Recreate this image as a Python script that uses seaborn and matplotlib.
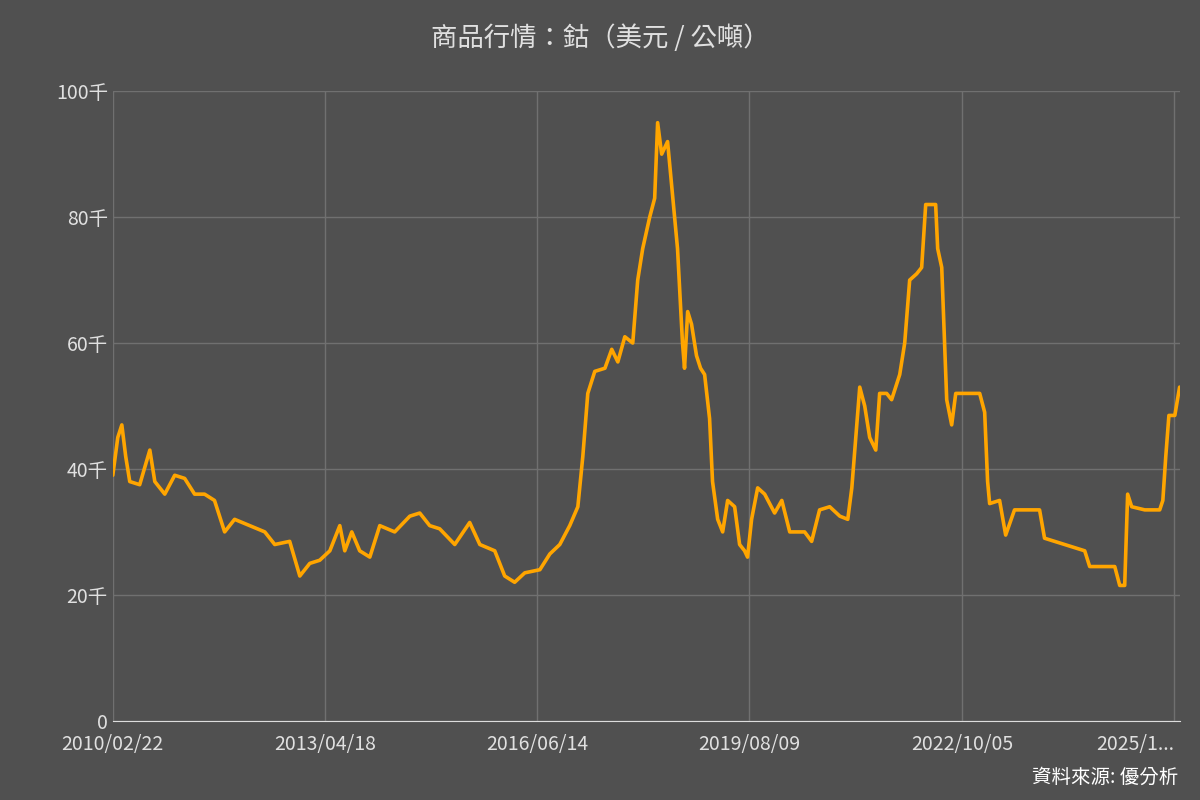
import matplotlib
matplotlib.use('Agg')
import matplotlib.pyplot as plt
import seaborn as sns
import pandas as pd

# 鈷價 (千美元/公噸)
dates = ['2010-02-22', '2010-03-21', '2010-04-12', '2010-05-03', '2010-05-25', '2010-07-18',
         '2010-09-11', '2010-10-08', '2010-12-01', '2011-01-24', '2011-03-19', '2011-05-12',
         '2011-07-05', '2011-08-28', '2011-10-22', '2011-12-15', '2012-03-06', '2012-05-27',
         '2012-07-20', '2012-10-09', '2012-12-03', '2013-01-26', '2013-03-21', '2013-05-15',
         '2013-07-08', '2013-08-04', '2013-09-11', '2013-10-24', '2013-12-18', '2014-02-10',
         '2014-05-02', '2014-07-23', '2014-09-15', '2014-11-08', '2015-01-01', '2015-03-24',
         '2015-06-13', '2015-08-07', '2015-10-27', '2015-12-20', '2016-02-12', '2016-04-07',
         '2016-06-28', '2016-08-21', '2016-10-14', '2016-12-07', '2017-01-20', '2017-02-16',
         '2017-03-15', '2017-04-22', '2017-06-16', '2017-07-23', '2017-08-25', '2017-10-02',
         '2017-11-14', '2017-12-11', '2018-01-07', '2018-02-14', '2018-03-13', '2018-03-29',
         '2018-04-20', '2018-05-22', '2018-06-13', '2018-07-15', '2018-08-11', '2018-08-22',
         '2018-09-08', '2018-09-29', '2018-10-26', '2018-11-17', '2018-12-09', '2019-01-05',
         '2019-01-21', '2019-02-18', '2019-03-17', '2019-04-13', '2019-05-21', '2019-06-17',
         '2019-07-14', '2019-07-30', '2019-08-21', '2019-09-23', '2019-10-31', '2019-12-24',
         '2020-02-01', '2020-03-15', '2020-06-04', '2020-07-12', '2020-08-24', '2020-10-18',
         '2020-12-12', '2021-01-24', '2021-02-15', '2021-03-14', '2021-03-30', '2021-04-26',
         '2021-05-23', '2021-06-25', '2021-07-16', '2021-08-23', '2021-09-19', '2021-11-02',
         '2021-11-29', '2021-12-26', '2022-02-02', '2022-03-01', '2022-03-23', '2022-05-16',
         '2022-05-27', '2022-06-18', '2022-07-15', '2022-08-11', '2022-09-02', '2023-01-10',
         '2023-02-06', '2023-02-22', '2023-03-05', '2023-04-28', '2023-05-31', '2023-07-18',
         '2023-12-01', '2023-12-28', '2024-02-21', '2024-04-15', '2024-06-08', '2024-08-02',
         '2024-08-29', '2025-01-12', '2025-02-08', '2025-03-07', '2025-03-23', '2025-04-14',
         '2025-06-24', '2025-09-13', '2025-09-30', '2025-10-16', '2025-11-02', '2025-12-04',
         '2025-12-30']
prices = [39, 45, 47, 42, 38, 37.5,
          43, 38, 36, 39, 38.5, 36,
          36, 35, 30, 32, 31, 30,
          28, 28.5, 23, 25, 25.5, 27,
          31, 27, 30, 27, 26, 31,
          30, 32.5, 33, 31, 30.5, 28,
          31.5, 28, 27, 23, 22, 23.5,
          24, 26.5, 28, 31, 34, 42,
          52, 55.5, 56, 59, 57, 61,
          60, 70, 75, 80, 83, 95,
          90, 92, 85, 75, 60, 56,
          65, 63, 58, 56, 55, 48,
          38, 32, 30, 35, 34, 28,
          27, 26, 32, 37, 36, 33,
          35, 30, 30, 28.5, 33.5, 34,
          32.5, 32, 37, 47, 53, 50,
          45, 43, 52, 52, 51, 55,
          60, 70, 71, 72, 82, 82,
          75, 72, 51, 47, 52, 52,
          49, 38, 34.5, 35, 29.5, 33.5,
          33.5, 29, 28.5, 28, 27.5, 27,
          24.5, 24.5, 21.5, 21.5, 36, 34,
          33.5, 33.5, 35, 42, 48.5, 48.5,
          53]

tick_dates = ['2010-02-22', '2013-04-18', '2016-06-14', '2019-08-09', '2022-10-05', '2025-11-30']
tick_labels = ['2010/02/22', '2013/04/18', '2016/06/14', '2019/08/09', '2022/10/05', '2025/1...']
y_ticks = [0, 20, 40, 60, 80, 100]
y_labels = ['0', '20千', '40千', '60千', '80千', '100千']

df = pd.DataFrame({'date': pd.to_datetime(dates), 'price': prices})

bg = '#505050'
sns.set_style('dark')
plt.rcParams['font.family'] = ['Noto Sans CJK TC', 'DejaVu Sans']

fig, ax = plt.subplots(figsize=(12, 8), dpi=100)
fig.patch.set_facecolor(bg)
ax.set_facecolor(bg)
fig.subplots_adjust(left=0.094, right=0.983, top=0.886, bottom=0.099)

sns.lineplot(data=df, x='date', y='price', ax=ax, color='#FFA500', linewidth=2.6)

ax.set_xlim(df['date'].iloc[0], df['date'].iloc[-1])
ax.set_ylim(0, 100)
ax.set_yticks(y_ticks)
ax.set_yticklabels(y_labels)
ax.set_xticks(pd.to_datetime(tick_dates))
ax.set_xticklabels(tick_labels)
ax.get_xticklabels()[-1].set_horizontalalignment('right')
ax.get_xticklabels()[-1].set_x(0)
ax.grid(True, color='#707070', linewidth=1)
ax.tick_params(axis='both', colors='#e0e0e0', labelsize=14)
ax.tick_params(axis='y', length=0)
ax.tick_params(axis='x', length=6, color='#dddddd')
ax.set_xlabel('')
ax.set_ylabel('')
for s in ['top', 'right', 'left']:
    ax.spines[s].set_visible(False)
ax.spines['bottom'].set_color('#dddddd')

fig.suptitle('商品行情：鈷（美元 / 公噸）', color='#e0e0e0', fontsize=19, y=0.97)
fig.text(0.982, 0.015, '資料來源: 優分析', color='#ffffff', fontsize=14, ha='right', va='bottom')

fig.savefig('out.png', dpi=100, facecolor=bg)
